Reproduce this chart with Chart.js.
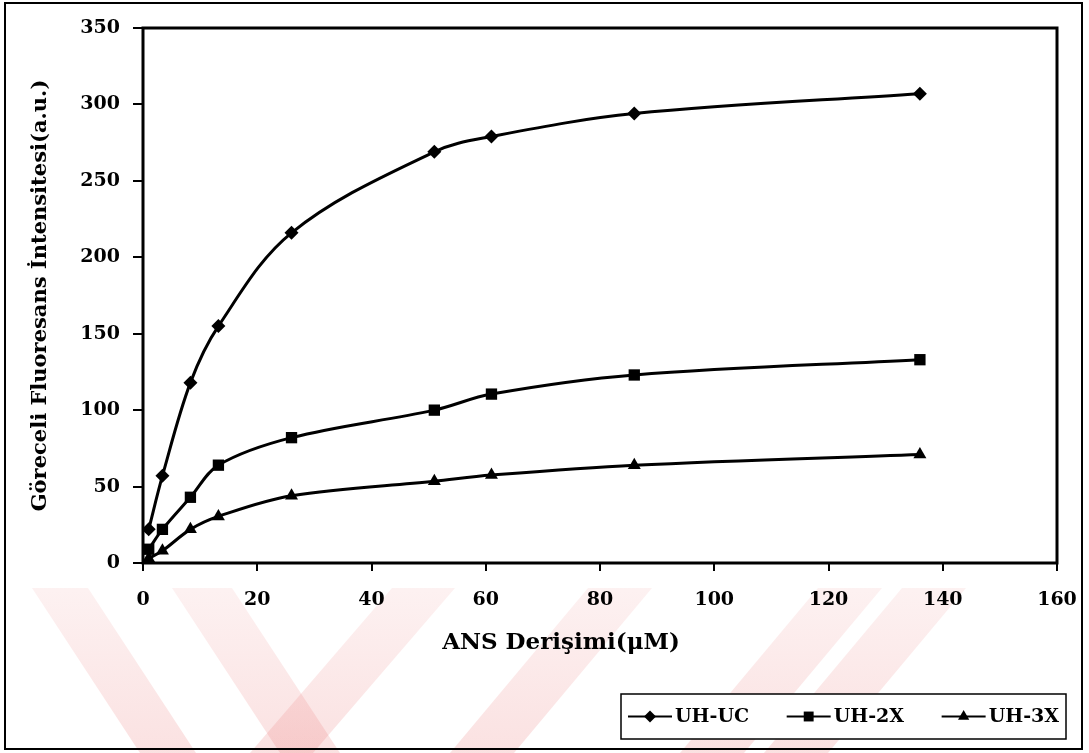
<!DOCTYPE html>
<html>
<head>
<meta charset="utf-8">
<script src="https://cdn.jsdelivr.net/npm/chart.js@4.4.1/dist/chart.umd.min.js"></script>
<style>
  html, body { margin: 0; padding: 0; background: #fff; }
  #wrap { width: 1089px; height: 753px; position: relative; }
</style>
</head>
<body>
<div id="wrap"><canvas id="chart" width="1089" height="753"></canvas></div>
<script>
// ANS concentration (µM)
const concentrations = [1, 3.4, 8.3, 13.2, 26, 51, 61, 86, 136];
// Relative fluorescence intensity (a.u.)
const uhUC = [22, 57, 118, 155, 216, 269, 279, 294, 307];
const uh2X = [9, 22, 43, 64, 82, 100, 110.5, 123, 133];
const uh3X = [3, 8, 22, 30.5, 44, 53.5, 57.5, 64, 71];

const seriesLabels = ['UH-UC', 'UH-2X', 'UH-3X'];
const xTicks = [0, 20, 40, 60, 80, 100, 120, 140, 160];
const yTicks = [0, 50, 100, 150, 200, 250, 300, 350];
const xTitle = 'ANS Derişimi(μM)';
const yTitle = 'Göreceli Fluoresans İntensitesi(a.u.)';

const toPoints = (ys) => concentrations.map((x, i) => ({ x, y: ys[i] }));

const serif = "'DejaVu Serif', 'Liberation Serif', serif";

function makeSeries(label, values, style, radius) {
  return {
    label,
    data: toPoints(values),
    showLine: true,
    borderColor: '#000',
    backgroundColor: '#000',
    borderWidth: 3,
    tension: 0.35,
    pointStyle: style,
    pointRadius: radius,
    pointHoverRadius: radius,
    pointBorderWidth: 0,
    pointBackgroundColor: '#000'
  };
}

// Page background, faint pink watermark bands, frame, plot box, x title and legend
const framePlugin = {
  id: 'frame',
  beforeDraw(chart) {
    const c = chart.ctx;
    const W = chart.width, H = chart.height;
    c.save();
    c.fillStyle = '#fff';
    c.fillRect(0, 0, W, H);

    const top = 588, bottom = H;
    const grad = c.createLinearGradient(0, top, 0, bottom);
    grad.addColorStop(0, 'rgba(235,120,120,0.10)');
    grad.addColorStop(1, 'rgba(235,120,120,0.22)');
    c.fillStyle = grad;
    const bands = [
      [32, 88, 140, 196],
      [172, 232, 280, 340],
      [392, 455, 250, 313],
      [588, 652, 450, 514],
      [818, 882, 680, 744],
      [902, 966, 764, 828]
    ];
    bands.forEach(([t0, t1, b0, b1]) => {
      c.beginPath();
      c.moveTo(t0, top);
      c.lineTo(t1, top);
      c.lineTo(b1, bottom);
      c.lineTo(b0, bottom);
      c.closePath();
      c.fill();
    });

    c.strokeStyle = '#000';
    c.lineWidth = 2;
    c.strokeRect(5, 3, 1077, 746);
    c.restore();
  },
  afterDraw(chart) {
    const c = chart.ctx;
    const a = chart.chartArea;
    c.save();
    c.strokeStyle = '#000';
    c.lineWidth = 3;
    c.strokeRect(a.left, a.top, a.right - a.left, a.bottom - a.top);

    // x-axis title
    c.fillStyle = '#000';
    c.font = 'bold 23px ' + serif;
    c.textAlign = 'center';
    c.textBaseline = 'middle';
    c.fillText(xTitle, 561, 643);

    // Legend box with line + marker samples
    const box = { x: 621, y: 694, w: 445, h: 45 };
    c.lineWidth = 1.5;
    c.fillStyle = '#fff';
    c.fillRect(box.x, box.y, box.w, box.h);
    c.strokeRect(box.x, box.y, box.w, box.h);
    c.font = 'bold 19px ' + serif;
    c.textBaseline = 'middle';
    c.textAlign = 'left';
    const cy = box.y + box.h / 2;
    const sample = 44, gapIn = 3, padL = 7, padR = 7;
    const sets = chart.data.datasets;
    const widths = sets.map(ds => c.measureText(ds.label).width);
    const used = widths.reduce((s, w) => s + w + sample + gapIn, 0);
    const gap = (box.w - padL - padR - used) / (sets.length - 1);
    let x = box.x + padL;
    sets.forEach((ds, i) => {
      c.strokeStyle = '#000';
      c.lineWidth = 2;
      c.beginPath();
      c.moveTo(x, cy);
      c.lineTo(x + sample, cy);
      c.stroke();
      c.fillStyle = '#000';
      Chart.helpers.drawPoint(c, {
        pointStyle: ds.pointStyle,
        radius: ds.pointRadius - 1,
        borderWidth: 0,
        rotation: 0
      }, x + sample / 2, cy);
      c.fillText(ds.label, x + sample + gapIn, cy + 1);
      x += sample + gapIn + widths[i] + gap;
    });
    c.restore();
  }
};

new Chart(document.getElementById('chart'), {
  type: 'scatter',
  data: {
    datasets: [
      makeSeries(seriesLabels[0], uhUC, 'rectRot', 7),
      makeSeries(seriesLabels[1], uh2X, 'rect', 8),
      makeSeries(seriesLabels[2], uh3X, 'triangle', 7.5)
    ]
  },
  options: {
    responsive: false,
    devicePixelRatio: 1,
    animation: false,
    layout: { padding: { left: 0, top: 28, right: 32, bottom: 0 } },
    plugins: {
      legend: { display: false },
      tooltip: { enabled: false }
    },
    scales: {
      x: {
        type: 'linear',
        min: 0,
        max: 160,
        afterBuildTicks: (s) => { s.ticks = xTicks.map(v => ({ value: v })); },
        afterFit: (s) => { s.height = 190; s.paddingLeft = 0; s.paddingRight = 0; },
        grid: {
          display: true,
          drawOnChartArea: false,
          drawTicks: true,
          tickLength: 8,
          color: '#000',
          lineWidth: 2
        },
        border: { display: false },
        ticks: {
          color: '#000',
          padding: 18,
          maxRotation: 0,
          font: { family: serif, size: 19, weight: 'bold' }
        },
        title: { display: false, text: xTitle }
      },
      y: {
        type: 'linear',
        min: 0,
        max: 350,
        afterBuildTicks: (s) => { s.ticks = yTicks.map(v => ({ value: v })); },
        afterFit: (s) => { s.width = 143; s.paddingTop = 0; s.paddingBottom = 0; },
        grid: {
          display: true,
          drawOnChartArea: false,
          drawTicks: true,
          tickLength: 10,
          color: '#000',
          lineWidth: 2
        },
        border: { display: false },
        ticks: {
          color: '#000',
          padding: 13,
          font: { family: serif, size: 19, weight: 'bold' }
        },
        title: {
          display: true,
          text: yTitle,
          color: '#000',
          font: { family: serif, size: 21, weight: 'bold' },
          padding: { top: 28, bottom: 0 }
        }
      }
    }
  },
  plugins: [framePlugin]
});
</script>
</body>
</html>
